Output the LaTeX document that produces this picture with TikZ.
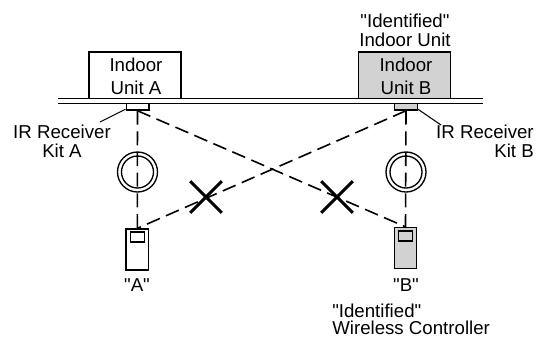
\documentclass[tikz,border=0pt]{standalone}
\usepackage{fontspec}
\setmainfont{Liberation Sans}[Ligatures=TeXOff]
\usetikzlibrary{shapes.misc}
\begin{document}
\begin{tikzpicture}[x=0.75pt,y=-0.75pt,
  lbl/.style={font=\fontsize{14}{16}\selectfont, inner sep=0pt, anchor=base},
  lblw/.style={lbl, anchor=base west},
  lble/.style={lbl, anchor=base east},
  unitbox/.style={draw, line width=1pt, inner sep=0pt, minimum width=69pt, minimum height=34.9pt},
  rxbox/.style={draw, line width=1pt, inner sep=0pt, minimum width=17pt, minimum height=4.9pt},
  ctrlbox/.style={draw, line width=1pt, inner sep=0pt, minimum width=16.9pt, minimum height=30.75pt},
  scrbox/.style={draw, line width=1pt, inner sep=0pt, minimum width=10.5pt, minimum height=7.5pt},
  okring/.style={draw, circle, line width=1pt, inner sep=0pt},
  nogo/.style={draw, cross out, line width=2.3pt, inner sep=0pt, minimum size=21.5pt},
  ray/.style={dash pattern=on 10.5pt off 5pt, line width=1.2pt},
  leader/.style={line width=0.8pt},
  ceil/.style={line width=1pt}]
\definecolor{unitgray}{RGB}{210,210,210}
\useasboundingbox (0,0) rectangle (539,337);
% ceiling
\draw[ceil] (58,98.5) -- (483,98.5);
\draw[ceil] (58,103.5) -- (483,103.5);
% indoor units
\node[unitbox, fill=white] (unitA) at (135,75.3) {};
\node[unitbox, fill=unitgray] (unitB) at (404.5,75.3) {};
\node[lbl] (unitAl1) at (136,71.7) {Indoor};
\node[lbl] (unitAl2) at (136,94.3) {Unit A};
\node[lbl] (unitBl1) at (406,71.7) {Indoor};
\node[lbl] (unitBl2) at (406,94.3) {Unit B};
\node[lbl] (idUnit1) at (405,27.5) {"Identified"};
\node[lbl] (idUnit2) at (405,46) {Indoor Unit};
% receivers
\node[rxbox, fill=white] (rxA) at (137.5,106.8) {};
\node[rxbox, fill=unitgray] (rxB) at (406,106.8) {};
% controllers
\node[ctrlbox, fill=white] (ctrlA) at (137.3,249.5) {};
\node[scrbox, fill=white] (scrA) at (137.3,237) {};
\node[ctrlbox, fill=unitgray] (ctrlB) at (405.5,248) {};
\node[scrbox, fill=unitgray] (scrB) at (405.5,236) {};
% rays
\draw[ray] (rxA.south) -- (ctrlA.north);
\draw[ray] (rxA.south) -- (ctrlB.north);
\draw[ray] (rxB.south) -- (ctrlA.north);
\draw[ray] (rxB.south) -- (ctrlB.north);
% OK rings
\node[okring, minimum size=30pt] (okA) at (137.5,172) {};
\node[okring, minimum size=24pt] (okAin) at (137.5,172) {};
\node[okring, minimum size=30pt] (okB) at (406,172) {};
\node[okring, minimum size=24pt] (okBin) at (406,172) {};
% crosses
\node[nogo] (noA) at (206,197) {};
\node[nogo] (noB) at (337,197) {};
% receiver labels
\coordinate (ldA) at (100,122);
\coordinate (ldB) at (441,125);
\draw[leader] (rxA.south west) ++(0,-1.5) -- (ldA);
\draw[leader] (rxB.south east) ++(0,-1.5) -- (ldB);
\node[lbl] (rxAl1) at (62,138) {IR Receiver};
\node[lbl] (rxAl2) at (62,157) {Kit A};
\node[lble] (rxBl1) at (534,138) {IR Receiver};
\node[lble] (rxBl2) at (534,157) {Kit B};
% controller labels
\node[lbl] (ctrlAl) at (137,291.5) {"A"};
\node[lbl] (ctrlBl) at (406,291.5) {"B"};
\node[lblw] (idCtrl1) at (332,317) {"Identified"};
\node[lblw] (idCtrl2) at (332,334.5) {Wireless Controller};
\end{tikzpicture}
\end{document}
